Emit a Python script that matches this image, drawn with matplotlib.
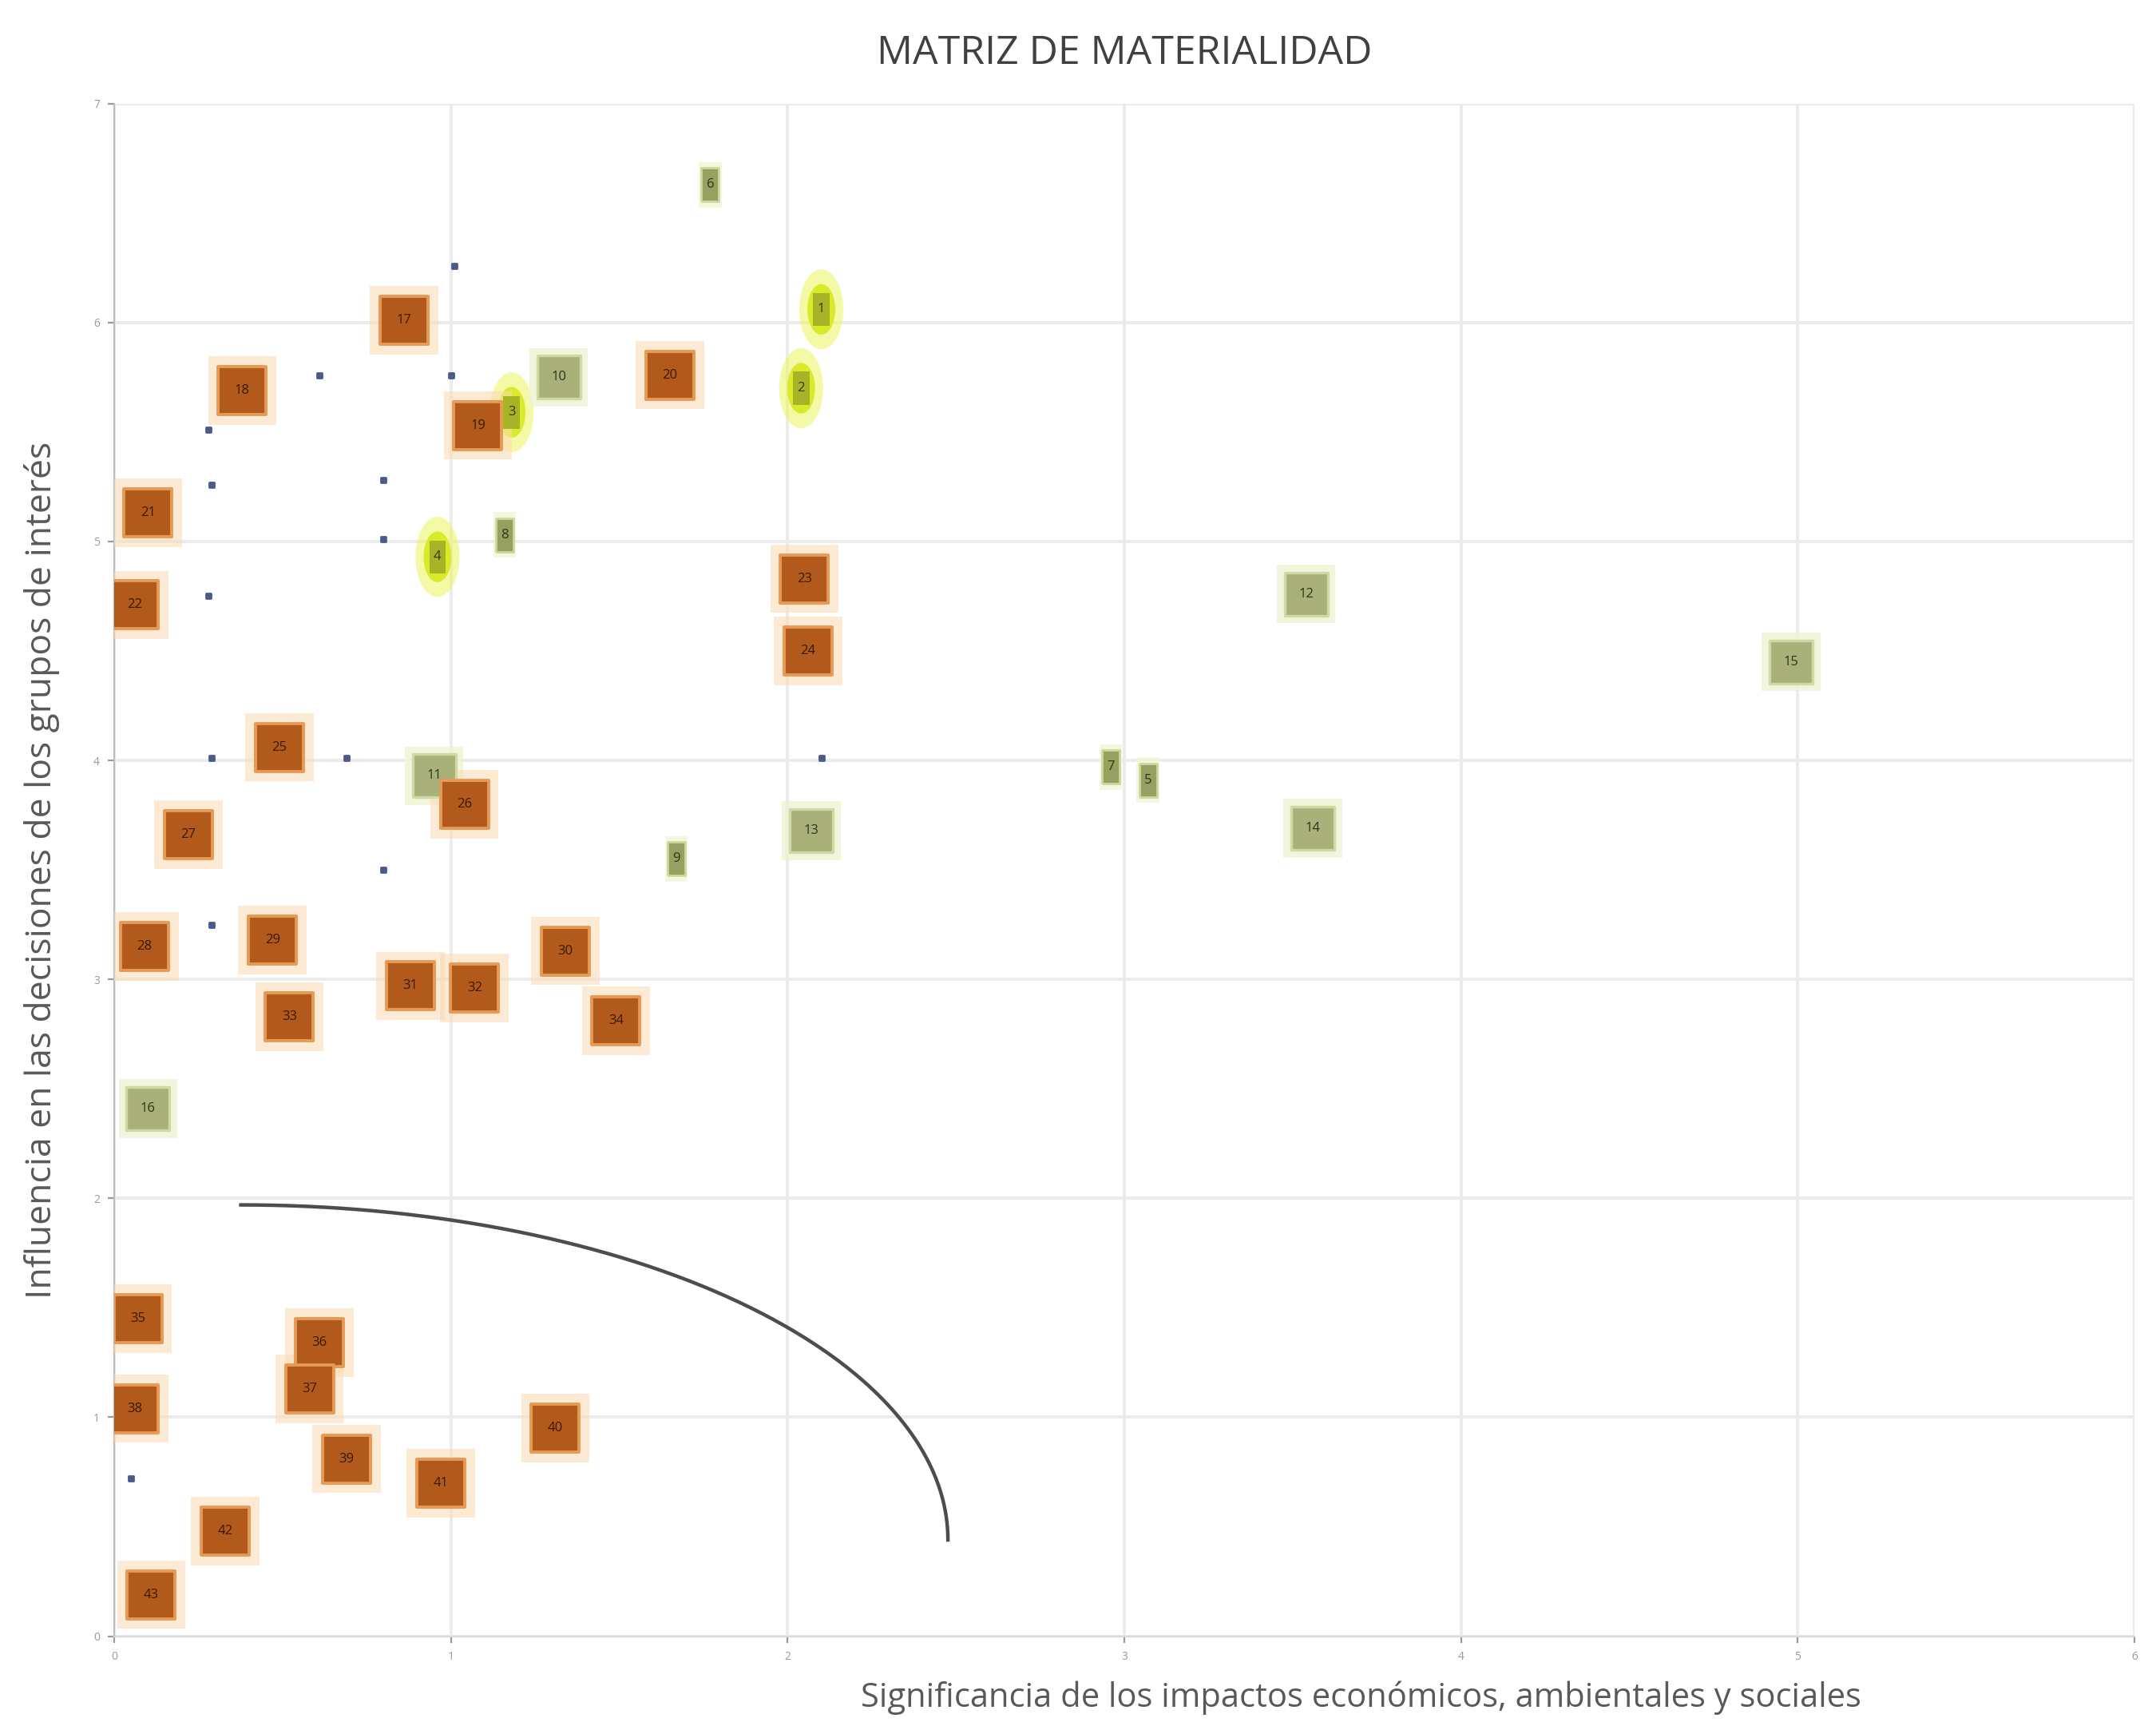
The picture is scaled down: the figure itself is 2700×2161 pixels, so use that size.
import matplotlib
matplotlib.use("Agg")
import matplotlib.pyplot as plt
import numpy as np
from matplotlib.path import Path

# Data (x: significancia, y: influencia)
green_labels = ["10", "12", "15", "11", "13", "14", "16"]
green_x = [1.32, 3.54, 4.98, 0.95, 2.07, 3.56, 0.10]
green_y = [5.75, 4.76, 4.45, 3.93, 3.68, 3.69, 2.41]

narrow_labels = ["6", "8", "7", "5", "9"]
narrow_x = [1.77, 1.16, 2.96, 3.07, 1.67]
narrow_y = [6.63, 5.03, 3.97, 3.91, 3.55]

yellow_labels = ["1", "2", "3", "4"]
yellow_x = [2.10, 2.04, 1.18, 0.96]
yellow_y = [6.06, 5.70, 5.59, 4.93]

orange_labels = [str(n) for n in range(17, 44)]
orange_x = [0.86, 0.38, 1.08, 1.65, 0.10, 0.06, 2.05, 2.06, 0.49, 1.04,
            0.22, 0.09, 0.47, 1.34, 0.88, 1.07, 0.52, 1.49, 0.07, 0.61,
            0.58, 0.06, 0.69, 1.31, 0.97, 0.33, 0.11]
orange_y = [6.01, 5.69, 5.53, 5.76, 5.13, 4.71, 4.83, 4.50, 4.06, 3.80,
            3.66, 3.15, 3.18, 3.13, 2.97, 2.96, 2.83, 2.81, 1.45, 1.34,
            1.13, 1.04, 0.81, 0.95, 0.70, 0.48, 0.19]

dot_x = [1.01, 0.28, 0.29, 0.61, 1.00, 0.80, 0.80, 0.28, 0.29, 0.69, 2.10, 0.80, 0.29, 0.05]
dot_y = [6.26, 5.51, 5.26, 5.76, 5.76, 5.28, 5.01, 4.75, 4.01, 4.01, 4.01, 3.50, 3.25, 0.72]

# threshold curve (quarter ellipse)
curve_cx, curve_cy = 0.376, 0.44
curve_rx, curve_ry = 2.10, 1.53

x_ticks = [0, 1, 2, 3, 4, 5, 6]
y_ticks = [0, 1, 2, 3, 4, 5, 6, 7]

plt.rcParams['font.family'] = ['Open Sans', 'DejaVu Sans']

fig = plt.figure(figsize=(13.5, 10.805), dpi=200)
ax = fig.add_axes([0.053, 0.052, 0.937, 0.888])

# marker shapes
narrow = Path([(-0.5, -1), (0.5, -1), (0.5, 1), (-0.5, 1), (-0.5, -1)])
t = np.linspace(0, 2 * np.pi, 60)
oval = Path(np.column_stack([0.55 * np.cos(t), np.sin(t)]))

# curve
tt = np.linspace(0, np.pi / 2, 200)
ax.plot(curve_cx + curve_rx * np.sin(tt), curve_cy + curve_ry * np.cos(tt),
        color='#4d4d4d', lw=1.6, zorder=2)

# small dots
ax.scatter(dot_x, dot_y, s=6, color='#4b5a8c', marker='s', zorder=2)

# yellow glow points
ax.scatter(yellow_x, yellow_y, s=1300, marker=oval, color='#eef56a', alpha=0.6,
           edgecolors='none', zorder=3)
ax.scatter(yellow_x, yellow_y, s=520, marker=oval, color='#d9ea2a',
           edgecolors='none', zorder=3)
ax.scatter(yellow_x, yellow_y, s=220, marker=narrow, color='#a8b428',
           edgecolors='none', zorder=4)
for lx, ly, lab in zip(yellow_x, yellow_y, yellow_labels):
    ax.text(lx, ly, lab, ha='center', va='center', fontsize=6, color='#33380a', zorder=5)

# green squares
ax.scatter(green_x, green_y, s=700, marker='s', color='#eef3d4', alpha=0.8,
           edgecolors='none', zorder=3)
ax.scatter(green_x, green_y, s=380, marker='s', color='#a9b07a',
           edgecolors='#d0d9a4', linewidths=1.2, zorder=4)
for lx, ly, lab in zip(green_x, green_y, green_labels):
    ax.text(lx, ly, lab, ha='center', va='center', fontsize=6, color='#2e3318', zorder=5)

ax.scatter(narrow_x, narrow_y, s=420, marker=narrow, color='#f1f6d6', alpha=0.8,
           edgecolors='none', zorder=3)
ax.scatter(narrow_x, narrow_y, s=230, marker=narrow, color='#97a060',
           edgecolors='#cdd79c', linewidths=1.0, zorder=4)
for lx, ly, lab in zip(narrow_x, narrow_y, narrow_labels):
    ax.text(lx, ly, lab, ha='center', va='center', fontsize=6, color='#2e3318', zorder=5)

# orange squares
ax.scatter(orange_x, orange_y, s=950, marker='s', color='#fbdcb8', alpha=0.6,
           edgecolors='none', zorder=3)
ax.scatter(orange_x, orange_y, s=460, marker='s', color='#b15a1c',
           edgecolors='#e59a55', linewidths=1.4, zorder=4)
for lx, ly, lab in zip(orange_x, orange_y, orange_labels):
    ax.text(lx, ly, lab, ha='center', va='center', fontsize=6, color='#3a1805', zorder=5)

ax.set_xlim(0, 6)
ax.set_ylim(0, 7)
ax.set_xticks(x_ticks)
ax.set_yticks(y_ticks)
ax.tick_params(labelsize=5, colors='#9a9a9a', length=3)
ax.grid(True, color='#ebebeb', lw=1.4)
ax.set_axisbelow(True)
for side in ['top', 'right']:
    ax.spines[side].set_visible(False)
ax.spines['left'].set_color('#bdbdbd')
ax.spines['bottom'].set_color('#d9d9d9')

ax.set_title('MATRIZ DE MATERIALIDAD', fontsize=18, color='#404040', pad=18)
ax.set_xlabel('Significancia de los impactos económicos, ambientales y sociales',
              fontsize=15, color='#595959')
ax.xaxis.set_label_coords(0.617, -0.029)
ax.set_ylabel('Influencia en las decisiones de los grupos de interés',
              fontsize=16, color='#595959')
ax.yaxis.set_label_coords(-0.027, 0.5)

fig.savefig('out.png', dpi=200, facecolor='white')
